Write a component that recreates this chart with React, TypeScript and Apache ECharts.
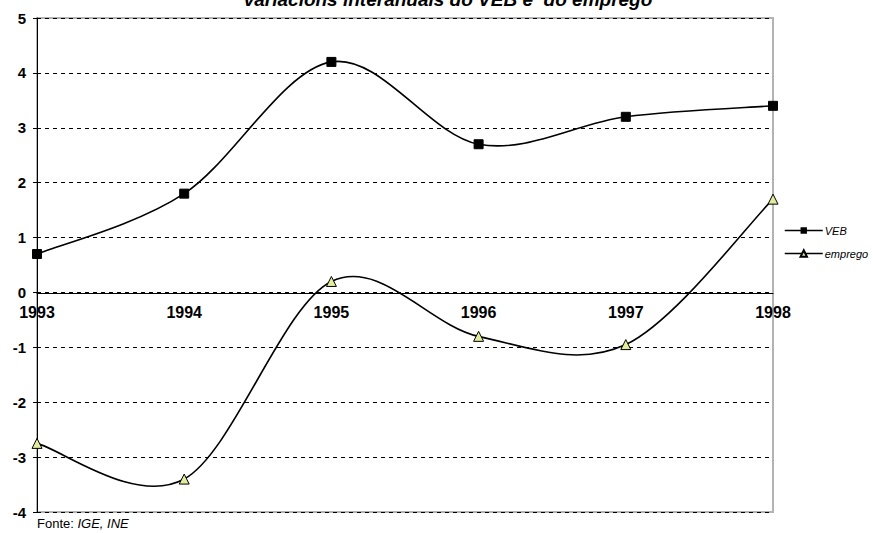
import React, { useEffect, useRef } from "react";
import * as echarts from "echarts";

const years = ["1993", "1994", "1995", "1996", "1997", "1998"];
const veb = [0.7, 1.8, 4.2, 2.7, 3.2, 3.4];
const emprego = [-2.75, -3.4, 0.2, -0.8, -0.95, 1.7];
const yTicks = { min: -4, max: 5, interval: 1 };

// Excel-like smoothed curve (Catmull-Rom bezier) drawn through the axis scales
function curveSeries(name: string, values: number[]) {
  return {
    name,
    type: "custom",
    z: 2,
    silent: true,
    data: values.map((v, i) => [i, v]),
    renderItem: (params: any, api: any) => {
      const i = params.dataIndex;
      const n = values.length;
      if (i >= n - 1) return null;
      const P = (k: number) => {
        const kk = Math.max(0, Math.min(n - 1, k));
        return api.coord([kk, values[kk]]);
      };
      const p0 = P(i - 1), p1 = P(i), p2 = P(i + 1), p3 = P(i + 2);
      const t = 1 / 6;
      return {
        type: "bezierCurve",
        shape: {
          x1: p1[0], y1: p1[1],
          x2: p2[0], y2: p2[1],
          cpx1: p1[0] + (p2[0] - p0[0]) * t,
          cpy1: p1[1] + (p2[1] - p0[1]) * t,
          cpx2: p2[0] - (p3[0] - p1[0]) * t,
          cpy2: p2[1] - (p3[1] - p1[1]) * t,
        },
        style: { stroke: "#000", lineWidth: 1.6, fill: "none" },
      };
    },
  };
}

export default function App() {
  const ref = useRef<HTMLDivElement>(null);
  useEffect(() => {
    const chart = echarts.init(ref.current!, null, { renderer: "svg" });
    const font = "Liberation Sans, Arial, sans-serif";
    chart.setOption({
      animation: false,
      backgroundColor: "#ffffff",
      textStyle: { fontFamily: font },
      grid: { left: 37, right: 100, top: 18, bottom: 21, show: true, borderColor: "#b3b3b3", borderWidth: 2, backgroundColor: "transparent" },
      graphic: [
        {
          type: "text",
          x: 448,
          y: 9,
          style: {
            text: "variacions interanuais do VEB e  do emprego",
            fontFamily: font,
            fontSize: 19,
            fontWeight: "bold",
            fontStyle: "italic",
            fill: "#000",
            align: "center",
            verticalAlign: "bottom",
          },
        },
        {
          type: "text",
          x: 37,
          y: 517,
          style: {
            text: "{a|Fonte: }{b|IGE, INE}",
            rich: {
              a: { fontFamily: font, fontSize: 13, fill: "#000" },
              b: { fontFamily: font, fontSize: 13, fontStyle: "italic", fill: "#000" },
            },
          },
        },
      ],
      legend: {
        orient: "vertical",
        left: 779,
        top: 220,
        itemGap: 12,
        itemWidth: 38,
        itemHeight: 8,
        lineStyle: { color: "#000", width: 1.5, opacity: 1 },
        textStyle: { fontFamily: font, fontSize: 11, fontStyle: "italic", color: "#000", padding: [0, 0, 0, -3] },
        data: ["VEB", "emprego"],
      },
      xAxis: {
        type: "category",
        data: years,
        boundaryGap: false,
        offset: -219,
        axisLine: { onZero: false, lineStyle: { color: "#000", width: 1 } },
        axisTick: { show: false },
        axisLabel: { fontFamily: font, fontSize: 16, fontWeight: "bold", color: "#000", margin: 11 },
        splitLine: { show: false },
      },
      yAxis: {
        type: "value",
        min: yTicks.min,
        max: yTicks.max,
        interval: yTicks.interval,
        axisLine: { show: true, onZero: false, lineStyle: { color: "#000", width: 1 } },
        axisTick: { show: true, length: 4, lineStyle: { color: "#000" } },
        axisLabel: { fontFamily: font, fontSize: 15, fontWeight: "bold", color: "#000", margin: 11 },
        splitLine: { show: true, lineStyle: { color: "#000", type: [4, 4], width: 1 } },
      },
      series: [
        curveSeries("VEB curve", veb),
        curveSeries("emprego curve", emprego),
        {
          name: "VEB",
          type: "line",
          z: 3,
          data: veb,
          symbol: "rect",
          symbolSize: 9,
          lineStyle: { color: "#000", width: 1.5, opacity: 0 },
          itemStyle: { color: "#000", borderColor: "#000" },
        },
        {
          name: "emprego",
          type: "line",
          z: 3,
          data: emprego,
          symbol: "triangle",
          symbolSize: 10,
          lineStyle: { color: "#000", width: 1.5, opacity: 0 },
          itemStyle: { color: "#e2ec9c", borderColor: "#000", borderWidth: 1 },
        },
      ],
    });
    return () => chart.dispose();
  }, []);
  return <div ref={ref} style={{ width: 873, height: 533, position: "absolute", left: 0, top: 0 }} />;
}
